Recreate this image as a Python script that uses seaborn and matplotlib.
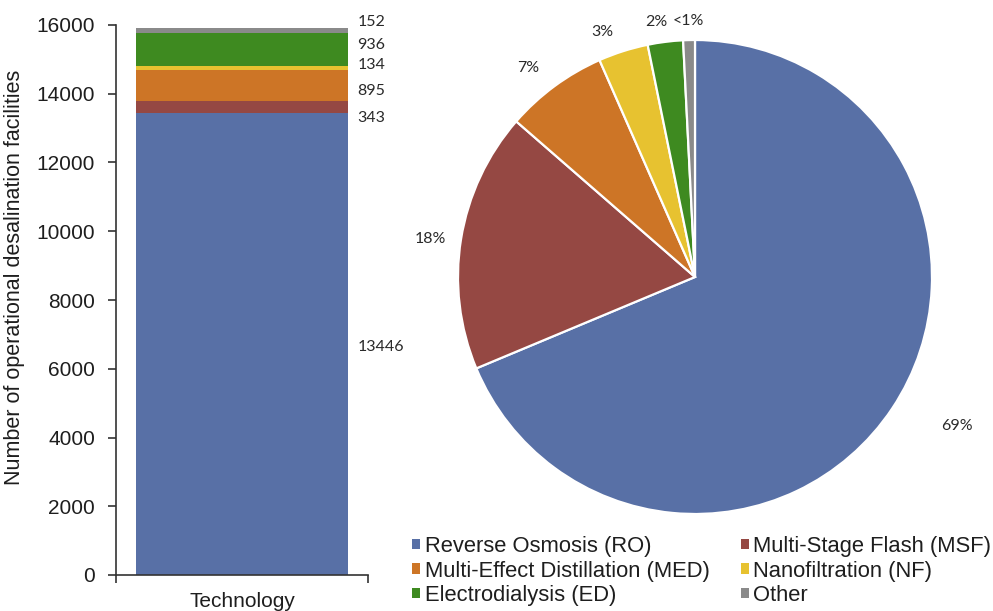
import numpy as np
import pandas as pd
import matplotlib
matplotlib.use("Agg")
import matplotlib.pyplot as plt
from matplotlib.patches import Patch
import seaborn as sns

# ---------------- data ----------------
categories = ["Reverse Osmosis (RO)", "Multi-Stage Flash (MSF)",
              "Multi-Effect Distillation (MED)", "Nanofiltration (NF)",
              "Electrodialysis (ED)", "Other"]
facility_counts = [13446, 343, 895, 134, 936, 152]
capacity_share = [68.7, 17.7, 7.0, 3.4, 2.4, 0.8]
share_labels = ["69%", "18%", "7%", "3%", "2%", "<1%"]
bar_category = "Technology"
y_ticks = [0, 2000, 4000, 6000, 8000, 10000, 12000, 14000, 16000]
y_label = "Number of operational desalination facilities"

# ---------------- style ----------------
colors = ["#5870a6", "#954843", "#cd7526", "#e7c230", "#3e8a20", "#8a8a8a"]
count_label_shift_pt = [-2, -8, -4, 2, 3, 6.5]
pie_label_dist = [1.27, 1.13, 1.13, 1.105, 1.09, 1.08]
pie_label_rot = [4.0, 1.0, 2.3, 3.0, 1.3, 0.0]

sns.set_theme(style="ticks")
plt.rcParams["font.family"] = ["Liberation Sans", "DejaVu Sans"]
text_color = "#1e1e1e"
value_font = ["Lato", "DejaVu Sans"]

fig = plt.figure(figsize=(9.93, 6.11), dpi=100)
fig.patch.set_facecolor("white")

# ---------------- stacked bar ----------------
W, H = 993, 611
ax = fig.add_axes([116 / W, (H - 575) / H, (368 - 116) / W, (575 - 25) / H])
cum = np.cumsum(facility_counts)
df = pd.DataFrame({"cat": [bar_category] * len(categories),
                   "tech": categories, "count": facility_counts, "top": cum})
# draw cumulative bars from the tallest down so that each segment shows
for i in range(len(categories) - 1, -1, -1):
    sns.barplot(data=df.iloc[[i]], x="cat", y="top", color=colors[i],
                width=0.84, saturation=1, ax=ax, edgecolor="none")

ax.set_ylim(0, 16000)
ax.set_xlim(-0.5, 0.5)
ax.set_yticks(y_ticks)
ax.set_ylabel(y_label, fontsize=15.5, color=text_color)
ax.yaxis.set_label_coords(-0.36, 0.542)
ax.set_xlabel("")
ax.tick_params(axis="y", labelsize=15, length=6, width=1.2, pad=9,
               colors="#333333", labelcolor=text_color)
ax.tick_params(axis="x", which="major", length=0, pad=12, labelsize=15,
               labelcolor=text_color)
ax.set_xticks([-0.5, 0.5], minor=True)
ax.tick_params(axis="x", which="minor", length=6, width=1.2, colors="#333333")
for s in ["top", "right"]:
    ax.spines[s].set_visible(False)
for s in ["left", "bottom"]:
    ax.spines[s].set_color("#333333")
    ax.spines[s].set_linewidth(1.2)

bar_right = 0.42
bottoms = cum - np.array(facility_counts)
for i, v in enumerate(facility_counts):
    mid = bottoms[i] + v / 2
    ax.annotate(f"{v}", xy=(bar_right, mid), xytext=(7, count_label_shift_pt[i]),
                textcoords="offset points", ha="left", va="center",
                fontsize=11.5, color="#2a2a2a", family=value_font,
                annotation_clip=False)

# ---------------- pie ----------------
ax2 = fig.add_axes([458 / W, (H - 514) / H, 474 / W, 474 / H])
wedges, texts = ax2.pie(capacity_share, colors=colors, startangle=90,
                        counterclock=False, labels=share_labels,
                        labeldistance=1.1,
                        wedgeprops=dict(edgecolor="white", linewidth=1.6),
                        textprops=dict(fontsize=11.5, color="#2a2a2a",
                                       family=value_font))
for w, t, d, r in zip(wedges, texts, pie_label_dist, pie_label_rot):
    ang = np.deg2rad((w.theta1 + w.theta2) / 2 + r)
    t.set_position((d * np.cos(ang), d * np.sin(ang)))
    t.set_ha("center")
    t.set_va("center")
    t.set_clip_on(False)
ax2.set_xlim(-1, 1)
ax2.set_ylim(-1, 1)
ax2.set_aspect("auto")
ax2.axis("off")

# ---------------- legend ----------------
handles = [Patch(facecolor=c, edgecolor="none", label=l)
           for c, l in zip(colors, categories)]
order = [0, 2, 4, 1, 3, 5]
fig.legend([handles[i] for i in order], [categories[i] for i in order],
           ncol=2, loc="upper left", bbox_to_anchor=(412 / W, 1 - 536 / H),
           frameon=False, fontsize=15.8, handlelength=0.37, handleheight=0.37,
           handletextpad=0.2, columnspacing=1.42, labelspacing=0.16,
           borderpad=0, borderaxespad=0, labelcolor=text_color)

fig.savefig("out.png", dpi=100, facecolor="white")
